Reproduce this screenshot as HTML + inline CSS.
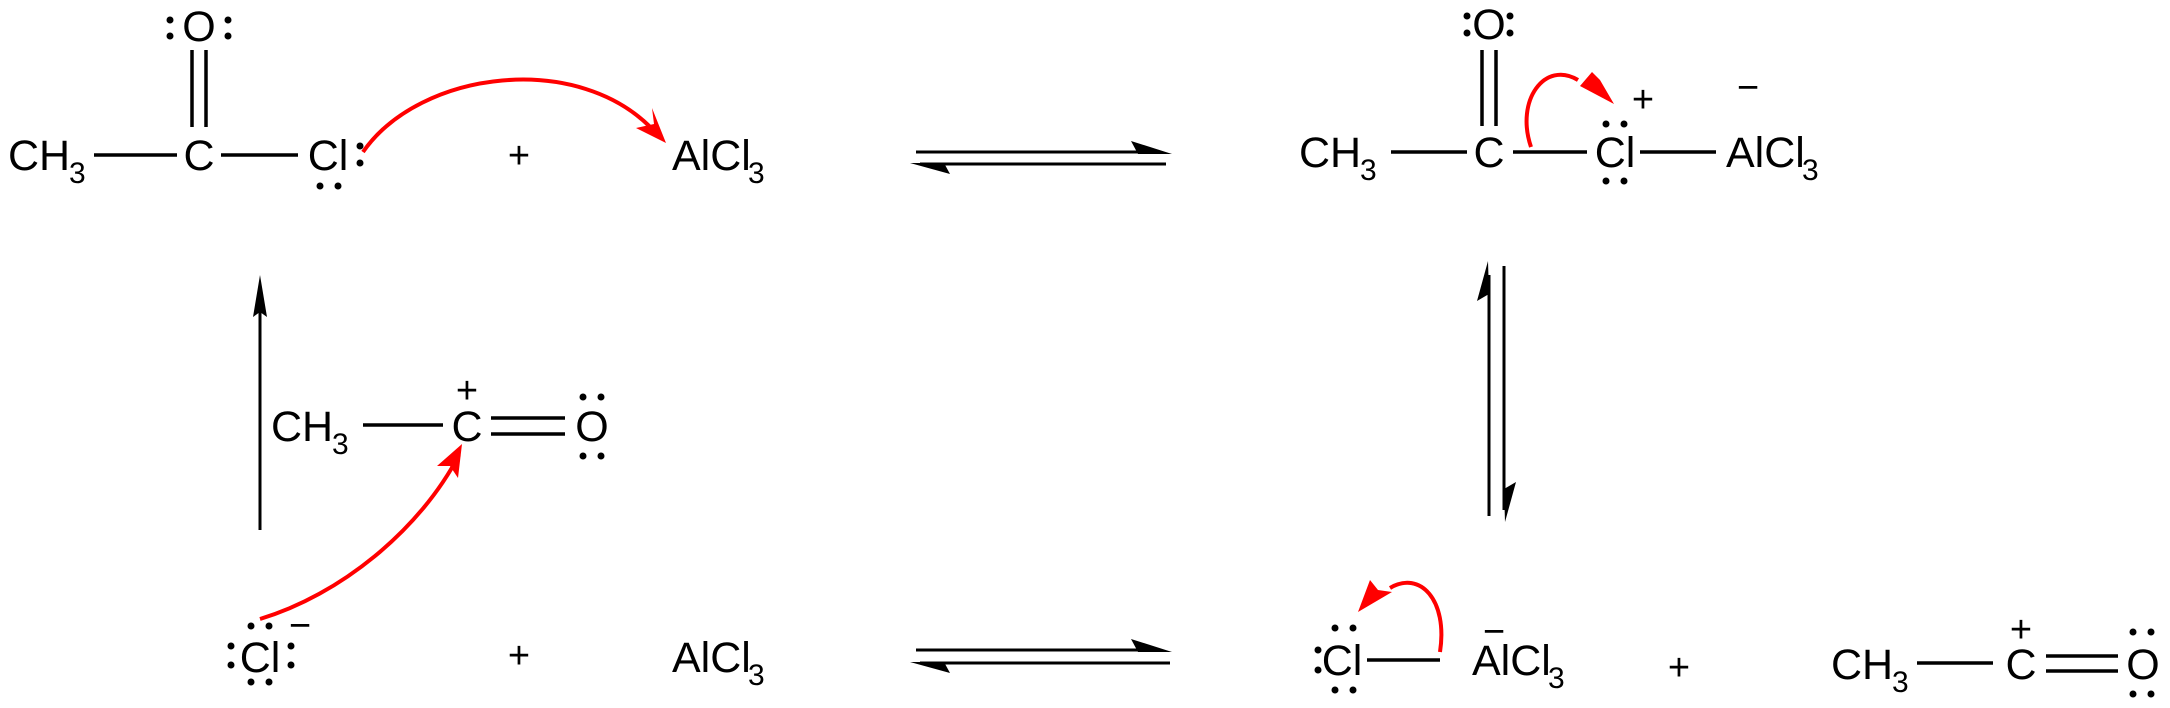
<!DOCTYPE html>
<html><head><style>
html,body{margin:0;padding:0;background:#fff;}
svg{display:block;}
text{font-family:"Liberation Sans",Arial,sans-serif;fill:#000;}
.a{font-size:43px;}
.s{font-size:30px;}
.p{font-size:38px;}
</style></head><body>
<svg width="2170" height="708" viewBox="0 0 2170 708" xmlns="http://www.w3.org/2000/svg">
<g stroke="#000" stroke-width="3.5" fill="none">
<line x1="94" y1="155" x2="177" y2="155"/>
<line x1="221" y1="155" x2="298" y2="155"/>
<line x1="192" y1="50" x2="192" y2="127"/>
<line x1="206" y1="50" x2="206" y2="127"/>
<line x1="1391" y1="152" x2="1467" y2="152"/>
<line x1="1513" y1="152" x2="1587" y2="152"/>
<line x1="1640" y1="152" x2="1716" y2="152"/>
<line x1="1482" y1="50" x2="1482" y2="126"/>
<line x1="1496" y1="50" x2="1496" y2="126"/>
<line x1="363" y1="425" x2="443" y2="425"/>
<line x1="491" y1="418" x2="565" y2="418"/>
<line x1="491" y1="434" x2="565" y2="434"/>
<line x1="1367" y1="660" x2="1440" y2="660"/>
<line x1="1917" y1="663" x2="1993" y2="663"/>
<line x1="2046" y1="656" x2="2118" y2="656"/>
<line x1="2046" y1="671" x2="2118" y2="671"/>
</g>
<g stroke="#000" stroke-width="3" fill="#000">
<line x1="916" y1="152" x2="1160" y2="152"/>
<polygon points="1172,154 1131,141 1138,154" stroke="none"/>
<line x1="920" y1="164" x2="1166" y2="164"/>
<polygon points="910,163 950,174 944,163" stroke="none"/>
<line x1="916" y1="650" x2="1160" y2="650"/>
<polygon points="1172,652 1131,639 1138,652" stroke="none"/>
<line x1="920" y1="663" x2="1170" y2="663"/>
<polygon points="910,662 950,673 944,662" stroke="none"/>
<line x1="1489" y1="275" x2="1489" y2="516"/>
<polygon points="1488,261 1477,301 1489,294" stroke="none"/>
<line x1="1504" y1="266" x2="1504" y2="510"/>
<polygon points="1505,522 1516,482 1504,489" stroke="none"/>
<line x1="260" y1="530" x2="260" y2="290"/>
<polygon points="260,275 253,317 260,312 267,317" stroke="none"/>
</g>
<g stroke="#f00" stroke-width="4" fill="none">
<path d="M363,152 C420,70 580,50 655,132"/>
<path d="M1531,147 C1515,100 1545,60 1578,80"/>
<path d="M260,619 C340,595 420,530 459,455"/>
<path d="M1440,652 C1448,600 1420,570 1390,588"/>
</g>
<g fill="#f00">
<polygon points="666,143 636,128 654,124 652,108"/>
<polygon points="1614,104 1580,86 1592,72 1600,80"/>
<polygon points="462,444 458,478 450,466 437,466"/>
<polygon points="1358,612 1370,580 1378,590 1392,592"/>
</g>
<text class="a" x="8" y="170">CH</text><text class="s" x="69" y="183">3</text>
<text class="a" x="199" y="170" text-anchor="middle">C</text>
<text class="a" x="328" y="170" text-anchor="middle">Cl</text>
<text class="a" x="199" y="41" text-anchor="middle">O</text>
<text class="p" x="519" y="168" text-anchor="middle">+</text>
<text class="a" x="672" y="170">AlCl</text><text class="s" x="748" y="183">3</text>

<text class="a" x="1299" y="167">CH</text><text class="s" x="1360" y="180">3</text>
<text class="a" x="1489" y="167" text-anchor="middle">C</text>
<text class="a" x="1615" y="167" text-anchor="middle">Cl</text>
<text class="a" x="1489" y="39" text-anchor="middle">O</text>
<text class="p" x="1643" y="112" text-anchor="middle">+</text>
<text class="p" x="1748" y="100" text-anchor="middle">−</text>
<text class="a" x="1726" y="167">AlCl</text><text class="s" x="1802" y="180">3</text>

<text class="a" x="271" y="441">CH</text><text class="s" x="332" y="454">3</text>
<text class="a" x="467" y="441" text-anchor="middle">C</text>
<text class="p" x="467" y="403" text-anchor="middle">+</text>
<text class="a" x="592" y="441" text-anchor="middle">O</text>

<text class="a" x="260" y="672" text-anchor="middle">Cl</text>
<text class="p" x="300" y="638" text-anchor="middle">−</text>
<text class="p" x="519" y="668" text-anchor="middle">+</text>
<text class="a" x="672" y="672">AlCl</text><text class="s" x="748" y="685">3</text>

<text class="a" x="1342" y="675" text-anchor="middle">Cl</text>
<text class="a" x="1472" y="675">AlCl</text><text class="s" x="1548" y="688">3</text>
<text class="p" x="1494" y="644" text-anchor="middle">−</text>
<text class="p" x="1679" y="680" text-anchor="middle">+</text>
<text class="a" x="1831" y="679">CH</text><text class="s" x="1892" y="692">3</text>
<text class="a" x="2021" y="679" text-anchor="middle">C</text>
<text class="p" x="2021" y="642" text-anchor="middle">+</text>
<text class="a" x="2143" y="679" text-anchor="middle">O</text>

<g fill="#000">
<circle cx="170" cy="20" r="3.5"/><circle cx="170" cy="36" r="3.5"/>
<circle cx="228" cy="20" r="3.5"/><circle cx="228" cy="36" r="3.5"/>
<circle cx="320" cy="186" r="3.5"/><circle cx="338" cy="186" r="3.5"/>
<circle cx="360" cy="146" r="3.5"/><circle cx="360" cy="163" r="3.5"/>

<circle cx="1467" cy="16" r="3.5"/><circle cx="1467" cy="33" r="3.5"/>
<circle cx="1510" cy="16" r="3.5"/><circle cx="1510" cy="33" r="3.5"/>
<circle cx="1606" cy="124" r="3.5"/><circle cx="1624" cy="124" r="3.5"/>
<circle cx="1606" cy="181" r="3.5"/><circle cx="1624" cy="181" r="3.5"/>

<circle cx="583" cy="397" r="3.5"/><circle cx="601" cy="397" r="3.5"/>
<circle cx="583" cy="456" r="3.5"/><circle cx="601" cy="456" r="3.5"/>

<circle cx="251" cy="626" r="3.5"/><circle cx="269" cy="626" r="3.5"/>
<circle cx="251" cy="682" r="3.5"/><circle cx="269" cy="682" r="3.5"/>
<circle cx="231" cy="646" r="3.5"/><circle cx="231" cy="665" r="3.5"/>
<circle cx="291" cy="646" r="3.5"/><circle cx="291" cy="665" r="3.5"/>

<circle cx="1335" cy="628" r="3.5"/><circle cx="1353" cy="628" r="3.5"/>
<circle cx="1335" cy="690" r="3.5"/><circle cx="1353" cy="690" r="3.5"/>
<circle cx="1318" cy="650" r="3.5"/><circle cx="1318" cy="670" r="3.5"/>

<circle cx="2133" cy="632" r="3.5"/><circle cx="2151" cy="632" r="3.5"/>
<circle cx="2133" cy="694" r="3.5"/><circle cx="2151" cy="694" r="3.5"/>
</g>
</svg>
</body></html>
